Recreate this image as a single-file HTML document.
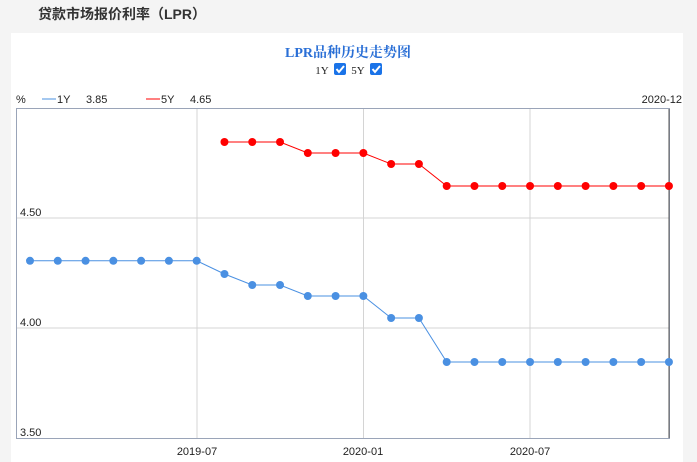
<!DOCTYPE html><html><head><meta charset="utf-8"><style>
body{margin:0;width:697px;height:462px;background:#f4f4f4;overflow:hidden;font-family:"Liberation Sans","Noto Sans CJK SC",sans-serif}
</style></head><body>
<svg width="697" height="462" style="position:absolute;left:0;top:0">
<text x="38" y="19" font-size="14" font-weight="bold" fill="#333" font-family="Liberation Sans,Noto Sans CJK SC,sans-serif">贷款市场报价利率（LPR）</text>
<rect x="11" y="33" width="672" height="429" fill="#fff"/>
<text x="348" y="57" text-anchor="middle" font-size="14" font-weight="bold" fill="#2a6fd6" font-family="Liberation Serif,Noto Serif CJK SC,serif">LPR品种历史走势图</text>
<text x="322" y="74" text-anchor="middle" font-size="11" fill="#222" font-family="Liberation Serif,serif">1Y</text>
<rect x="334" y="63" width="12" height="12" rx="2" fill="#1a73e8"/><path d="M336.5 69l2.5 3 5-6" stroke="#fff" stroke-width="2" fill="none"/>
<text x="358" y="74" text-anchor="middle" font-size="11" fill="#222" font-family="Liberation Serif,serif">5Y</text>
<rect x="370" y="63" width="12" height="12" rx="2" fill="#1a73e8"/><path d="M372.5 69l2.5 3 5-6" stroke="#fff" stroke-width="2" fill="none"/>
<g font-size="11" fill="#222">
<text x="16" y="103">%</text>
<line x1="42" y1="99" x2="56" y2="99" stroke="#4a90e2"/><text x="57" y="103">1Y</text><text x="86" y="103">3.85</text>
<line x1="146" y1="99" x2="160" y2="99" stroke="#f00"/><text x="161" y="103">5Y</text><text x="190" y="103">4.65</text>
<text x="682" y="103" text-anchor="end">2020-12</text>
</g>
<rect x="16.5" y="108.5" width="653" height="330" fill="none" stroke="#9aa4b8"/>
<g stroke="#d4d4d4"><line x1="197" y1="109" x2="197" y2="438"/><line x1="363.5" y1="109" x2="363.5" y2="438"/><line x1="530" y1="109" x2="530" y2="438"/>
<line x1="17" y1="218" x2="669" y2="218"/><line x1="17" y1="328" x2="669" y2="328"/></g>
<line x1="669" y1="109" x2="669" y2="438" stroke="#555"/>
<g font-size="11" fill="#222"><text x="20" y="216">4.50</text><text x="20" y="326">4.00</text><text x="20" y="436">3.50</text>
<text x="197" y="455" text-anchor="middle">2019-07</text><text x="363" y="455" text-anchor="middle">2020-01</text><text x="530" y="455" text-anchor="middle">2020-07</text></g>
<g id="s"></g>
</svg>
<script>
var a=[4.31,4.31,4.31,4.31,4.31,4.31,4.31,4.25,4.20,4.20,4.15,4.15,4.15,4.05,4.05,3.85,3.85,3.85,3.85,3.85,3.85,3.85,3.85,3.85];
var b=[null,null,null,null,null,null,null,4.85,4.85,4.85,4.80,4.80,4.80,4.75,4.75,4.65,4.65,4.65,4.65,4.65,4.65,4.65,4.65,4.65];
var g=document.getElementById('s'),h='';
function X(i){return 30+i*27.78}function Y(v){return 329-(v-4)*220}
[[a,'#4a90e2'],[b,'#f00']].forEach(function(p){var d='',c='';p[0].forEach(function(v,i){if(v==null)return;d+=(d?'L':'M')+X(i)+' '+Y(v);c+='<circle cx="'+X(i)+'" cy="'+Y(v)+'" r="4" fill="'+p[1]+'"/>'});h+='<path d="'+d+'" stroke="'+p[1]+'" fill="none"/>'+c});
g.innerHTML=h;
</script>
</body></html>
